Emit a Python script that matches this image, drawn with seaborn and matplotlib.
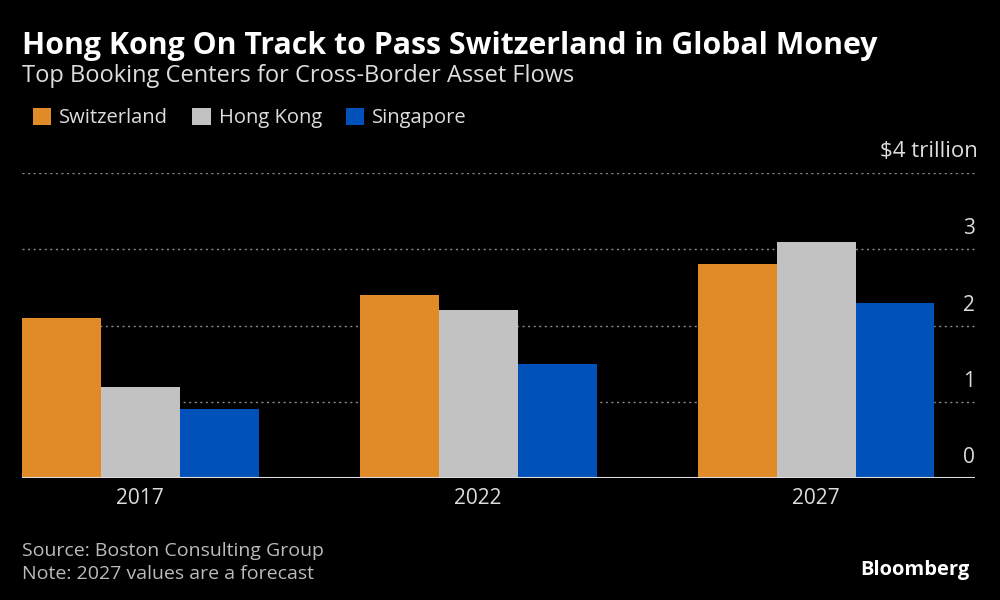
import pandas as pd
import numpy as np
import matplotlib.pyplot as plt
import seaborn as sns

# values in $ trillion
years = ["2017", "2022", "2027"]
centers = ["Switzerland", "Hong Kong", "Singapore"]
switzerland = [2.1, 2.4, 2.8]
hong_kong = [1.2, 2.2, 3.1]
singapore = [0.9, 1.5, 2.3]
colors = ["#E08A28", "#C2C2C2", "#0052BA"]

df = pd.DataFrame({
    "year": years * 3,
    "center": [c for c in centers for _ in years],
    "value": switzerland + hong_kong + singapore,
})

sns.set_theme(style="dark")
plt.rcParams['font.family'] = ['Open Sans', 'DejaVu Sans']
plt.rcParams['figure.facecolor'] = 'black'

fig = plt.figure(figsize=(10, 6), dpi=100)
ax = fig.add_axes([0.022, 0.2033, 0.953, 0.5084])
ax.set_facecolor('black')

sns.barplot(data=df, x="year", y="value", hue="center", hue_order=centers,
            palette=colors, width=0.7, gap=0, saturation=1,
            linewidth=0, ax=ax, zorder=3)

ax.set_xlim(-0.35, 2.47)
ax.set_ylim(0, 4)
for s in ax.spines.values():
    s.set_visible(False)

# dotted gridlines and right-side labels above them
ax.set_yticks([1, 2, 3, 4])
ax.grid(axis='y', color='#8a8a8a', linestyle=(0, (1.5, 2.5)), linewidth=1, zorder=0)
ax.tick_params(axis='y', length=0, labelleft=False, labelright=False)
ax.axhline(0, color='#dddddd', linewidth=1.5, zorder=4)
for v in [0, 1, 2, 3]:
    ax.text(1.0, v + 0.13, str(v), transform=ax.get_yaxis_transform(),
            ha='right', va='bottom', color='#dddddd', fontsize=15)
ax.text(1.003, 4.15, "$4 trillion", transform=ax.get_yaxis_transform(),
        ha='right', va='bottom', color='#dddddd', fontsize=16, clip_on=False)

ax.set_xlabel("")
ax.set_ylabel("")
ax.tick_params(axis='x', length=0, colors='#dddddd', labelsize=15, pad=7)

# legend
handles, labels = ax.get_legend_handles_labels()
ax.get_legend().remove()
fig.legend(handles, labels, loc='center left', bbox_to_anchor=(0.015, 0.803),
           ncol=3, frameon=False, handlelength=0.9, handleheight=0.9,
           handletextpad=0.4, columnspacing=1.2, fontsize=14.5,
           labelcolor='#dddddd')

fig.text(0.022, 0.923, "Hong Kong On Track to Pass Switzerland in Global Money",
         color='white', fontsize=21.8, fontweight='bold', va='center', ha='left')
fig.text(0.022, 0.873, "Top Booking Centers for Cross-Border Asset Flows",
         color='#dddddd', fontsize=17, va='center', ha='left')

fig.text(0.022, 0.082, "Source: Boston Consulting Group", color='#bbbbbb',
         fontsize=14, va='center', ha='left')
fig.text(0.022, 0.043, "Note: 2027 values are a forecast", color='#bbbbbb',
         fontsize=14, va='center', ha='left')
fig.text(0.97, 0.05, "Bloomberg", color='white', fontsize=14.5,
         fontweight='bold', va='center', ha='right')

fig.savefig("out.png", dpi=100, facecolor='black')
